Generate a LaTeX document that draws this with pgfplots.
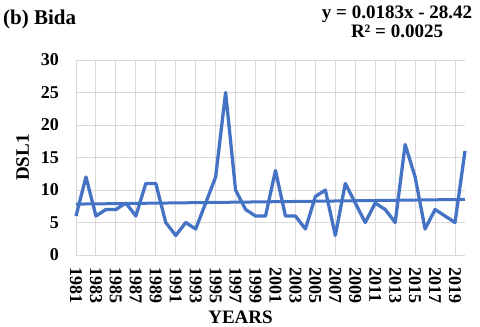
\documentclass[border=0pt]{standalone}
\usepackage{fontspec}
\setmainfont{Liberation Serif}
\usepackage{pgfplots}
\pgfplotsset{compat=1.18}
\definecolor{xlblue}{RGB}{68,114,196}
\definecolor{gridgray}{RGB}{217,217,217}

\begin{document}
\begin{tikzpicture}
\useasboundingbox (0,0) rectangle (480pt,327pt);
\begin{axis}[
  at={(76pt,72pt)}, anchor=south west,
  scale only axis, width=389pt, height=195pt,
  xmin=1981, xmax=2020, ymin=0, ymax=30,
  xtick={1981,1983,...,2019},
  ytick={0,5,...,30},
  xticklabel={\pgfmathprintnumber[int detect,set thousands separator={}]{\tick}},
  /pgf/number format/assume math mode=true,
  axis line style={draw=none},
  major grid style={color=gridgray, line width=0.9pt},
  xmajorgrids, ymajorgrids,
  tick style={draw=none},
  every tick label/.style={font=\fontsize{18}{20}\selectfont\bfseries},
  yticklabel style={inner sep=0pt, xshift=-17pt, anchor=east},
  xticklabel style={inner sep=0pt, yshift=-12pt, rotate=-90, anchor=west},
  xlabel={YEARS}, ylabel={DSL1},
  every axis label/.style={font=\fontsize{19}{21}\selectfont\bfseries},
  xlabel style={at={(axis description cs:0.423,-0.32)}, anchor=center},
  ylabel style={at={(axis description cs:-0.137,0.5)}, anchor=center},
  clip=false,
]
\addplot[xlblue, line width=3.3pt, line join=round] coordinates {
  (1981,6)(1982,12)(1983,6)(1984,7)(1985,7)(1986,8)(1987,6)(1988,11)
  (1989,11)(1990,5)(1991,3)(1992,5)(1993,4)(1994,8)(1995,12)(1996,25)
  (1997,10)(1998,7)(1999,6)(2000,6)(2001,13)(2002,6)(2003,6)(2004,4)
  (2005,9)(2006,10)(2007,3)(2008,11)(2009,8)(2010,5)(2011,8)(2012,7)
  (2013,5)(2014,17)(2015,12)(2016,4)(2017,7)(2018,6)(2019,5)(2020,16)
};
%% linear trend y = 0.0183x - 28.42
\addplot[xlblue, line width=3pt] coordinates {(1981,7.83)(2020,8.55)};
\end{axis}
\node[anchor=west, inner sep=0pt, font=\fontsize{21}{23}\selectfont\bfseries]
  at (3pt,308pt) {(b) Bida};
\node[align=center, inner sep=0pt, font=\fontsize{19}{19}\selectfont\bfseries]
  at (397pt,305pt) {y = 0.0183x - 28.42\\R² = 0.0025};
\end{tikzpicture}
\end{document}
